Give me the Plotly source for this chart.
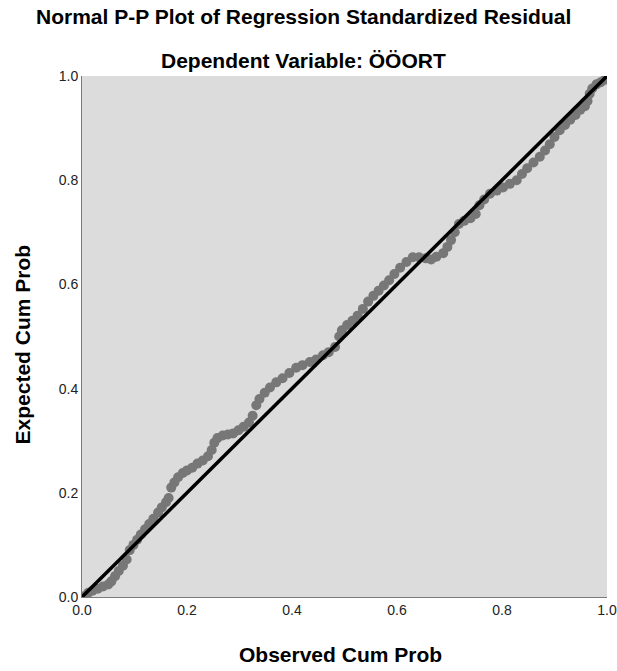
import plotly.graph_objects as go

observed = [0.005, 0.012, 0.02, 0.03, 0.04, 0.05, 0.056, 0.063, 0.07, 0.078,
            0.085, 0.091, 0.098, 0.105, 0.112, 0.12, 0.128, 0.136, 0.145, 0.152,
            0.16, 0.165, 0.17, 0.176, 0.183, 0.192, 0.2, 0.21, 0.22, 0.23,
            0.24, 0.247, 0.252, 0.258, 0.268, 0.278, 0.288, 0.298, 0.308, 0.318,
            0.325, 0.332, 0.338, 0.348, 0.358, 0.37, 0.382, 0.395, 0.408, 0.42,
            0.434, 0.446, 0.459, 0.47, 0.482, 0.49, 0.495, 0.505, 0.515, 0.525,
            0.535, 0.545, 0.555, 0.565, 0.575, 0.585, 0.595, 0.606, 0.618, 0.63,
            0.642, 0.655, 0.665, 0.675, 0.688, 0.696, 0.703, 0.71, 0.718, 0.728,
            0.74, 0.75, 0.757, 0.766, 0.777, 0.79, 0.802, 0.815, 0.828, 0.838,
            0.848, 0.86, 0.872, 0.882, 0.891, 0.9, 0.91, 0.92, 0.93, 0.94,
            0.949, 0.958, 0.963, 0.967, 0.972, 0.98, 0.988, 0.996]
expected = [0.002, 0.008, 0.012, 0.016, 0.02, 0.024, 0.03, 0.04, 0.05, 0.06,
            0.072, 0.09, 0.1, 0.11, 0.12, 0.13, 0.14, 0.15, 0.162, 0.172,
            0.182, 0.19, 0.21, 0.22, 0.23, 0.238, 0.243, 0.248, 0.256, 0.262,
            0.27, 0.282, 0.296, 0.305, 0.31, 0.312, 0.314, 0.32, 0.327, 0.335,
            0.348, 0.368, 0.38, 0.392, 0.402, 0.412, 0.42, 0.43, 0.44, 0.445,
            0.451, 0.456, 0.464, 0.47, 0.48, 0.5, 0.512, 0.522, 0.53, 0.54,
            0.553, 0.567, 0.578, 0.588, 0.598, 0.608, 0.62, 0.632, 0.643, 0.652,
            0.652, 0.65, 0.648, 0.653, 0.66, 0.672, 0.685, 0.7, 0.716, 0.722,
            0.727, 0.735, 0.752, 0.763, 0.774, 0.78, 0.786, 0.793, 0.8, 0.812,
            0.823, 0.834, 0.845, 0.857, 0.869, 0.883, 0.896, 0.906, 0.916, 0.925,
            0.935, 0.942, 0.952, 0.966, 0.976, 0.984, 0.988, 0.993]

ref_line = [0.0, 1.0]
tick_vals = [0.0, 0.2, 0.4, 0.6, 0.8, 1.0]
tick_text = ["0.0", "0.2", "0.4", "0.6", "0.8", "1.0"]

title1 = "Normal P-P Plot of Regression Standardized Residual"
title2 = "Dependent Variable: ÖÖORT"
x_title = "Observed Cum Prob"
y_title = "Expected Cum Prob"

FONT = "Liberation Sans, Arial, sans-serif"

fig = go.Figure()
fig.add_trace(go.Scatter(
    x=observed, y=expected, mode="markers",
    marker=dict(size=10, color="#777777", line=dict(width=0)),
    hoverinfo="skip", showlegend=False))
fig.add_trace(go.Scatter(
    x=ref_line, y=ref_line, mode="lines",
    line=dict(color="#000000", width=3.5),
    hoverinfo="skip", showlegend=False))

axis_common = dict(
    range=[0, 1], tickvals=tick_vals, ticktext=tick_text,
    showgrid=False, zeroline=False, showline=True, linecolor="#7a7a7a",
    linewidth=1, ticks="", automargin=False,
    tickfont=dict(family=FONT, size=14, color="#222222"),
    fixedrange=True)

fig.update_xaxes(**axis_common)
fig.update_yaxes(**axis_common)

ann_font = dict(family=FONT, size=21, color="#000000")
fig.update_layout(
    width=617, height=671,
    margin=dict(l=82, r=10, t=76, b=74, autoexpand=False),
    paper_bgcolor="#ffffff", plot_bgcolor="#dcdcdc",
    showlegend=False,
    annotations=[
        dict(text="<b>" + title1 + "</b>", x=0.421, y=1.115, xref="paper", yref="paper",
             xanchor="center", yanchor="middle", showarrow=False, font=ann_font),
        dict(text="<b>" + title2 + "</b>", x=0.421, y=1.029, xref="paper", yref="paper",
             xanchor="center", yanchor="middle", showarrow=False, font=ann_font),
        dict(text="<b>" + x_title + "</b>", x=0.492, y=-0.111, xref="paper", yref="paper",
             xanchor="center", yanchor="middle", showarrow=False, font=ann_font),
        dict(text="<b>" + y_title + "</b>", x=-0.114, y=0.485, xref="paper", yref="paper",
             xanchor="center", yanchor="middle", showarrow=False, textangle=-90, font=ann_font),
    ],
)

fig.write_html("out.html")
